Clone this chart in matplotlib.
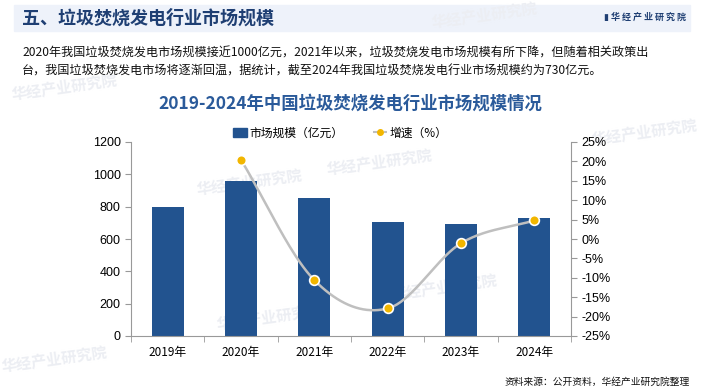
import numpy as np
import matplotlib.pyplot as plt
from matplotlib.lines import Line2D
from matplotlib.patches import Patch, Rectangle

plt.rcParams['font.family'] = ['Liberation Sans', 'Noto Sans CJK SC', 'DejaVu Sans']

years = ["2019年", "2020年", "2021年", "2022年", "2023年", "2024年"]
scale = [795, 960, 855, 705, 695, 730]          # 市场规模（亿元）
growth_years = [1, 2, 3, 4, 5]
growth = [20.4, -10.6, -17.9, -1.1, 4.8]        # 增速（%）

blue = "#22538f"
gold = "#f2b600"
gray = "#bfbfbf"
cjk = ['Noto Sans CJK SC', 'DejaVu Sans']


def catmull_rom(xs, ys, n=40):
    xs = np.asarray(xs, float)
    ys = np.asarray(ys, float)
    px = np.concatenate([[2 * xs[0] - xs[1]], xs, [2 * xs[-1] - xs[-2]]])
    py = np.concatenate([[2 * ys[0] - ys[1]], ys, [2 * ys[-1] - ys[-2]]])
    outx, outy = [], []
    for i in range(1, len(px) - 2):
        t = np.linspace(0, 1, n)
        for p, out in ((px, outx), (py, outy)):
            p0, p1, p2, p3 = p[i - 1], p[i], p[i + 1], p[i + 2]
            out.extend(0.5 * ((2 * p1) + (-p0 + p2) * t
                              + (2 * p0 - 5 * p1 + 4 * p2 - p3) * t ** 2
                              + (-p0 + 3 * p1 - 3 * p2 + p3) * t ** 3))
    return np.array(outx), np.array(outy)


fig = plt.figure(figsize=(7.05, 3.92), dpi=100)

# header band
fig.patches.append(Rectangle((14 / 705, 1 - 31 / 392), 676 / 705, 26 / 392,
                             transform=fig.transFigure, color="#eef2fa", zorder=-2))
fig.text(22 / 705, 1 - 18 / 392, "五、垃圾焚烧发电行业市场规模", family=cjk,
         fontsize=13, fontweight="bold", color="#1f3f73", va="center")
fig.text(686 / 705, 1 - 17 / 392, "▮ 华 经 产 业 研 究 院", family=cjk,
         fontsize=6.5, fontweight="bold", color="#1f3f73", va="center", ha="right")

# watermarks (behind everything)
for wx, wy in [(10, 100), (430, 28), (195, 195), (325, 175),
               (390, 300), (590, 145), (215, 330), (0, 372)]:
    fig.text(wx / 705, 1 - wy / 392, "华经产业研究院", family=cjk, fontsize=11,
             fontweight="bold", color="#eceef3", rotation=8, zorder=-1)

fig.text(22 / 705, 1 - 53 / 392,
         "2020年我国垃圾焚烧发电市场规模接近1000亿元，2021年以来，垃圾焚烧发电市场规模有所下降，但随着相关政策出",
         family=cjk, fontsize=8.7, color="#111111", va="center")
fig.text(22 / 705, 1 - 71 / 392,
         "台，我国垃圾焚烧发电市场将逐渐回温，据统计，截至2024年我国垃圾焚烧发电行业市场规模约为730亿元。",
         family=cjk, fontsize=8.7, color="#111111", va="center")
fig.text(350 / 705, 1 - 104 / 392, "2019-2024年中国垃圾焚烧发电行业市场规模情况",
         family=cjk, fontsize=12.5, fontweight="bold", color="#2a5a9a",
         ha="center", va="center")

ax = fig.add_axes([131 / 705, 1 - 336 / 392, 440 / 705, 194 / 392])
x = np.arange(len(years))
ax.bar(x, scale, width=0.44, color=blue, zorder=2)
ax.set_xlim(-0.5, 5.5)
ax.set_ylim(0, 1200)
ax.set_yticks(range(0, 1201, 200))
ax.set_xticks(x)
ax.set_xticklabels(years, family=cjk, fontsize=8.5)
ax.set_xticks(np.arange(-0.5, 6, 1), minor=True)
ax.tick_params(axis="x", which="major", length=0, pad=7)
ax.tick_params(axis="x", which="minor", length=4, color="#999999")
ax.tick_params(axis="y", length=4, color="#999999", labelsize=9)
for sp in ("top", "right"):
    ax.spines[sp].set_visible(False)
for sp in ("left", "bottom"):
    ax.spines[sp].set_color("#999999")
ax.patch.set_alpha(0)

ax2 = ax.twinx()
sx, sy = catmull_rom(growth_years, growth)
ax2.plot(sx, sy, color=gray, lw=1.8, zorder=3)
ax2.plot(growth_years, growth, "o", ms=7, color=gold, mec="white", mew=1.2, zorder=4)
ax2.set_ylim(-25, 25)
ax2.set_yticks(range(-25, 26, 5))
ax2.set_yticklabels([f"{v}%" for v in range(-25, 26, 5)])
ax2.tick_params(axis="y", length=4, color="#999999", labelsize=9)
for sp in ("top", "left", "bottom"):
    ax2.spines[sp].set_visible(False)
ax2.spines["right"].set_color("#999999")

handles = [Patch(color=blue),
           Line2D([], [], color=gray, ls="--", lw=1.5, marker="o", ms=4,
                  mfc=gold, mec=gold)]
fig.legend(handles, ["市场规模（亿元）", "增速（%）"], loc="center",
           bbox_to_anchor=(340 / 705, 1 - 133 / 392), ncol=2, frameon=False,
           prop={"family": cjk, "size": 8.5}, handlelength=1.2,
           handletextpad=0.2, columnspacing=2.5)

fig.text(690 / 705, 1 - 382 / 392, "资料来源：公开资料，华经产业研究院整理",
         family=cjk, fontsize=7, color="#111111", ha="right", va="center")

fig.savefig("out.png", dpi=100)
